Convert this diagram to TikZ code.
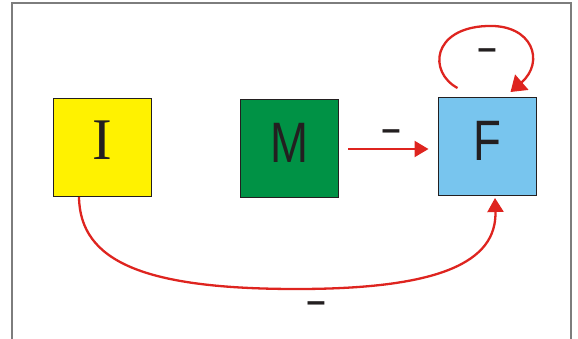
\documentclass[tikz,border=0pt]{standalone}
\usepackage{fontspec}
\setmainfont{Liberation Sans}
\newfontfamily\serifI{Liberation Serif}
\newfontfamily\boldS{Liberation Sans Bold}
\usetikzlibrary{arrows.meta}
\definecolor{frameg}{RGB}{125,125,125}
\definecolor{boxline}{RGB}{35,31,32}
\definecolor{yel}{RGB}{255,242,0}
\definecolor{grn}{RGB}{0,146,69}
\definecolor{blu}{RGB}{120,197,238}
\definecolor{redc}{RGB}{222,36,31}
\tikzset{
  box/.style={draw=boxline, line width=1pt, minimum width=98pt, minimum height=98pt, inner sep=0pt, text=boxline},
  arr/.style={draw=redc, line width=2.3pt, -{Triangle[length=14pt,width=16pt]}},
  minus/.style={font=\boldS\fontsize{34}{34}\selectfont, text=boxline, inner sep=0pt}
}
\begin{document}
\begin{tikzpicture}[x=1pt,y=-1pt]
\useasboundingbox (0,0) rectangle (578,338);
\draw[frameg, line width=1.5pt] (12,340) -- (12,3) -- (571,3) -- (571,340);
\node[box, fill=yel, text depth=16pt, text height=39pt] (I) at (102,147.5) {\serifI\fontsize{59}{59}\selectfont I};
\node[box, fill=grn, text depth=14pt, text height=41pt] (M) at (289.5,148.5) {\fontsize{57}{57}\selectfont\scalebox{0.8}[1]{M}};
\node[box, fill=blu, text depth=14pt, text height=41pt] (F) at (487,146.5) {\fontsize{57}{57}\selectfont\scalebox{0.8}[1]{F}};
% M -> F
\draw[arr] ([shift={(9,0.5)}]M.east) -- ([shift={(-9,0.5)}]M.east -| F.west);
% self loop on F
\coordinate (ls) at ([shift={(20,-9)}]F.north west);
\coordinate (le) at ([shift={(-26,-5)}]F.north east);
\draw[arr, -{Triangle[length=15pt,width=20pt]}] (ls) .. controls (428,72) and (432,28) .. (487,26) .. controls (533,24) and (545,62) .. (le);
% I -> F (bottom)
\coordinate (bs) at ([xshift=-23]I.south);
\coordinate (be) at ([shift={(8,2)}]F.south);
\draw[arr] (bs) .. controls (80,262) and (145,289) .. (297,289) .. controls (440,289) and (497,262) .. (be);
% labels
\node[minus] (l1) at (391,135) {–};
\node[minus] (l2) at (487,54) {–};
\node[minus] (l3) at (316,307) {–};
\end{tikzpicture}
\end{document}
